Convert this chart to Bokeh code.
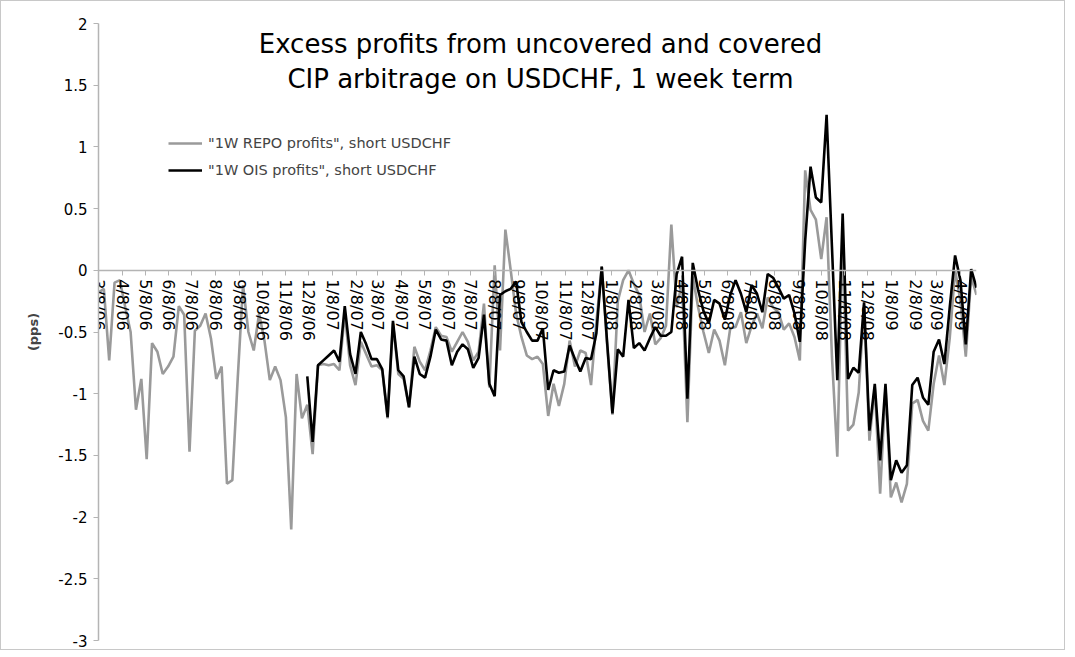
import math
import pandas as pd
from bokeh.plotting import figure
from bokeh.models import Range1d, FixedTicker, Legend, LegendItem, Label
from bokeh.embed import file_html
from bokeh.resources import INLINE

# ---------------- data (weekly, starting 3/8/06) ----------------
start_date = "2006-03-08"

repo_profits = [
    -0.18, -0.15, -0.73, -0.10, -0.08, -0.30, -0.50, -1.13, -0.88, -1.53,
    -0.59, -0.66, -0.84, -0.78, -0.70, -0.29, -0.36, -1.47, -0.49, -0.45,
    -0.35, -0.55, -0.88, -0.78, -1.73, -1.70, -0.88, -0.12, -0.50, -0.65,
    -0.35, -0.57, -0.89, -0.78, -0.89, -1.19, -2.10, -0.84, -1.20, -1.09,
    -1.49, -0.77, -0.76, -0.77, -0.76, -0.81, -0.35, -0.77, -0.93, -0.58,
    -0.68, -0.78, -0.77, -0.81, -1.20, -0.43, -0.84, -0.88, -1.11, -0.62,
    -0.74, -0.81, -0.65, -0.46, -0.53, -0.54, -0.66, -0.58, -0.50, -0.58,
    -0.73, -0.66, -0.27, -0.95, 0.04, -0.65, 0.33, 0.00, -0.35, -0.54,
    -0.69, -0.72, -0.70, -0.76, -1.18, -0.92, -1.10, -0.92, -0.57, -0.78,
    -0.65, -0.67, -0.93, -0.42, 0.03, -0.60, -1.17, -0.25, -0.08, 0.00,
    -0.11, -0.20, -0.50, -0.35, -0.60, -0.55, -0.45, 0.37, -0.30, -0.10,
    -1.23, -0.05, -0.30, -0.50, -0.67, -0.48, -0.57, -0.77, -0.47, -0.46,
    -0.34, -0.59, -0.45, -0.35, -0.47, -0.22, -0.30, -0.34, -0.48, -0.43,
    -0.54, -0.73, 0.81, 0.49, 0.41, 0.09, 0.43, -0.70, -1.51, 0.30,
    -1.30, -1.25, -0.99, -0.28, -1.38, -0.95, -1.81, -0.95, -1.84, -1.72,
    -1.88, -1.73, -1.08, -1.05, -1.22, -1.30, -0.92, -0.69, -0.93, -0.55,
    0.00, -0.25, -0.70, -0.05, -0.20,
]

ois_first_week = 39
ois_profits = [
    -0.86, -1.39, -0.77, -0.73, -0.69, -0.65, -0.74, -0.29, -0.68, -0.84,
    -0.50, -0.60, -0.72, -0.72, -0.80, -1.19, -0.41, -0.81, -0.86, -1.11,
    -0.70, -0.84, -0.87, -0.70, -0.48, -0.56, -0.57, -0.77, -0.66, -0.60,
    -0.64, -0.79, -0.71, -0.36, -0.92, -1.02, -0.20, -0.17, -0.15, -0.09,
    -0.42, -0.50, -0.57, -0.57, -0.47, -0.97, -0.81, -0.83, -0.82, -0.61,
    -0.72, -0.82, -0.71, -0.72, -0.51, 0.03, -0.58, -1.16, -0.64, -0.70,
    -0.24, -0.63, -0.59, -0.65, -0.55, -0.46, -0.53, -0.53, -0.50, -0.03,
    0.11, -1.04, 0.06, -0.16, -0.33, -0.43, -0.24, -0.27, -0.40, -0.20,
    -0.08, -0.19, -0.34, -0.12, -0.19, -0.34, -0.03, -0.06, -0.14, -0.23,
    -0.20, -0.35, -0.58, 0.24, 0.84, 0.59, 0.55, 1.26, 0.19, -0.89,
    0.46, -0.88, -0.79, -0.83, -0.26, -1.30, -0.92, -1.54, -0.92, -1.70,
    -1.54, -1.64, -1.58, -0.93, -0.87, -1.03, -1.09, -0.66, -0.56, -0.76,
    -0.30, 0.12, -0.08, -0.60, 0.01, -0.14,
]

series_labels = ['"1W REPO profits", short USDCHF', '"1W OIS profits", short USDCHF']
title_lines = ["Excess profits from uncovered and covered",
               "CIP arbitrage on USDCHF, 1 week term"]
y_axis_title = "(pps)"
y_ticks = [-3, -2.5, -2, -1.5, -1, -0.5, 0, 0.5, 1, 1.5, 2]
y_tick_labels = ["-3", "-2.5", "-2", "-1.5", "-1", "-0.5", "0", "0.5", "1", "1.5", "2"]
x_tick_dates = pd.date_range("2006-03-08", "2009-04-08", freq=pd.DateOffset(months=1))
x_tick_labels = [f"{d.month}/{d.day}/{d.strftime('%y')}" for d in x_tick_dates]

# ---------------- figure ----------------
dates = pd.date_range(start_date, periods=len(repo_profits), freq="7D")
ois_dates = dates[ois_first_week:ois_first_week + len(ois_profits)]

FONT = "DejaVu Sans"
AXIS_GRAY = "#b4b4b4"

p = figure(width=1065, height=650, x_axis_type="datetime",
           x_range=Range1d(dates[0], dates[-1]), y_range=Range1d(-3, 2),
           output_backend="svg", toolbar_location=None,
           min_border_left=97, min_border_right=90, min_border_top=22,
           min_border_bottom=11)
p.styles = {"border": "1px solid #c8c8c8"}
p.xgrid.visible = False
p.ygrid.visible = False
p.outline_line_color = None
p.background_fill_color = "white"
p.border_fill_color = "white"

tick_ms = [int(d.value // 10**6) for d in x_tick_dates]
xa = p.xaxis[0]
xa.fixed_location = 0
xa.ticker = FixedTicker(ticks=tick_ms)
xa.major_label_overrides = {t: lab for t, lab in zip(tick_ms, x_tick_labels)}
xa.major_label_orientation = -math.pi / 2
xa.major_label_text_font = FONT
xa.major_label_text_font_size = "16px"
xa.major_label_text_color = "black"
xa.major_label_standoff = 4
xa.axis_line_color = AXIS_GRAY
xa.axis_line_width = 1.5
xa.major_tick_line_color = AXIS_GRAY
xa.major_tick_out = 5
xa.major_tick_in = 0
xa.minor_tick_line_color = None

ya = p.yaxis[0]
ya.ticker = FixedTicker(ticks=y_ticks)
ya.major_label_overrides = {t: lab for t, lab in zip(y_ticks, y_tick_labels)}
ya.major_label_text_font = FONT
ya.major_label_text_font_size = "15px"
ya.major_label_text_color = "black"
ya.major_label_standoff = 6
ya.axis_line_color = AXIS_GRAY
ya.axis_line_width = 1.5
ya.major_tick_line_color = AXIS_GRAY
ya.major_tick_out = 5
ya.major_tick_in = 0
ya.minor_tick_line_color = None
ya.axis_label = y_axis_title
ya.axis_label_text_font = FONT
ya.axis_label_text_font_size = "13px"
ya.axis_label_text_font_style = "bold"
ya.axis_label_standoff = 14

r_repo = p.line(dates, repo_profits, line_color="#9a9a9a", line_width=2.6)
r_ois = p.line(ois_dates, ois_profits, line_color="black", line_width=2.6)

legend = Legend(items=[LegendItem(label=series_labels[0], renderers=[r_repo]),
                       LegendItem(label=series_labels[1], renderers=[r_ois])],
                location=(70, 460), orientation="vertical",
                label_text_font=FONT, label_text_font_size="14.5px",
                glyph_width=34, glyph_height=20, label_height=20,
                spacing=7, padding=0, margin=0, label_standoff=6,
                background_fill_alpha=0, border_line_color=None)
p.add_layout(legend)

for line_text, yy in zip(title_lines, [597, 562]):
    p.add_layout(Label(x=442, y=yy, x_units="screen", y_units="screen",
                       text=line_text, text_align="center", text_baseline="middle",
                       text_font=FONT, text_font_size="26px", text_color="black"))

open("out.html", "w").write(file_html(p, INLINE))
